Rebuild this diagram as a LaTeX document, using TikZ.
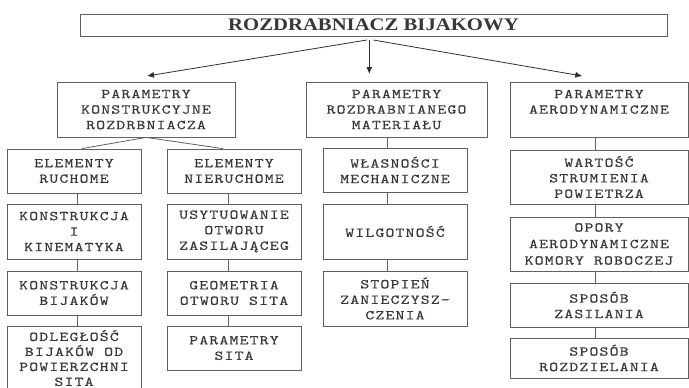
\documentclass[tikz,border=0pt]{standalone}
\usepackage{fontspec}
\usetikzlibrary{arrows.meta}
\newfontfamily\mono[Extension=.otf, FakeStretch=1.25, LetterSpace=9, FakeBold=0.4]{lmmono10-regular}
\newfontfamily\titlefont[FakeStretch=1.17]{Liberation Serif}
\definecolor{boxc}{HTML}{606060}
\definecolor{txtc}{HTML}{383838}
\definecolor{arrc}{HTML}{303030}
\tikzset{
  box/.style={draw=boxc, line width=0.8pt, inner sep=0pt, align=center, text=txtc,
    font={\mono\fontsize{13.5}{15.5}\selectfont}},
  conn/.style={draw=boxc, line width=0.8pt},
  arr/.style={draw=arrc, line width=0.8pt, -{Latex[length=7pt,width=6pt]}},
  colA/.style={box, minimum width=134pt},
  colB/.style={box, minimum width=134pt},
  colC/.style={box, minimum width=144pt},
  colD/.style={box, minimum width=178pt},
}
\begin{document}
\begin{tikzpicture}[x=1pt, y=-1pt]
\useasboundingbox (0,0) rectangle (689,388);
\clip (0,0) rectangle (689,388);
\fill[white] (0,0) rectangle (689,388);

% title
\node[draw=boxc, line width=0.8pt, minimum width=587pt, minimum height=22pt, inner sep=0pt,
  text=txtc, font={\titlefont\bfseries\fontsize{17.7}{20}\selectfont}] (title) at (373.5,25) {ROZDRABNIACZ BIJAKOWY};

% level 1
\node[box, minimum width=178pt, minimum height=55pt] (l1a) at (146,109.5) {PARAMETRY\\KONSTRUKCYJNE\\ROZDRBNIACZA};
\node[box, minimum width=181pt, minimum height=55pt] (l1b) at (396.5,109.5) {PARAMETRY\\ROZDRABNIANEGO\\MATERIAŁU};
\node[box, minimum width=178pt, minimum height=55pt] (l1c) at (599,109.5) {PARAMETRY\\AERODYNAMICZNE\\~};

% column A
\node[colA, minimum height=44pt] (er) at (74,171) {ELEMENTY\\RUCHOME};
\node[colA, minimum height=55pt] (kk) at (74,231.5) {KONSTRUKCJA\\I\\KINEMATYKA};
\node[colA, minimum height=44pt] (kb) at (74,293) {KONSTRUKCJA\\BIJAKÓW};
\node[colA, minimum height=76pt, font={\mono\fontsize{13.5}{15}\selectfont}] (od) at (74,364) {ODLEGŁOŚĆ\\BIJAKÓW OD\\POWIERZCHNI\\SITA\\[-3pt]\mbox{}};

% column B
\node[colB, minimum height=44pt] (en) at (234,171) {ELEMENTY\\NIERUCHOME};
\node[colB, minimum height=55pt] (us) at (234,231.5) {USYTUOWANIE\\OTWORU\\ZASILAJĄCEG};
\node[colB, minimum height=44pt] (ge) at (234,293) {GEOMETRIA\\OTWORU SITA};
\node[colB, minimum height=44pt] (ps) at (234,348) {PARAMETRY\\SITA};

% column C
\node[colC, minimum height=44pt] (wm) at (395,170) {WŁASNOŚCI\\MECHANICZNE};
\node[colC, minimum height=55pt] (wi) at (395,231.5) {WILGOTNOŚĆ};
\node[colC, minimum height=55pt] (st) at (395,298.5) {STOPIEŃ\\ZANIECZYSZ-\\CZENIA};

% column D
\node[colD, minimum height=54pt] (ws) at (599,177) {WARTOŚĆ\\STRUMIENIA\\POWIETRZA};
\node[colD, minimum height=54pt, font={\mono\fontsize{13.5}{16.5}\selectfont}] (op) at (599,244) {OPORY\\AERODYNAMICZNE\\KOMORY ROBOCZEJ};
\node[colD, minimum height=44pt] (sz) at (599,305) {SPOSÓB\\ZASILANIA};
\node[colD, minimum height=40pt] (sr) at (599,358) {SPOSÓB\\ROZDZIELANIA};

% arrow end points
\coordinate (s1) at (367,40);
\coordinate (s2) at (369.3,40);
\coordinate (s3) at (373.3,40);
\coordinate (e1) at (147,76);
\coordinate (e2) at (369.3,74);
\coordinate (e3) at (582.3,76);
\draw[arr] (s1) -- (e1);
\draw[arr] (s2) -- (e2);
\draw[arr] (s3) -- (e3);

% connector x positions
\coordinate (jl) at (82,0);
\coordinate (jr) at (223,0);
\coordinate (cA) at (77,0);
\coordinate (cB) at (228,0);
\coordinate (cC) at (387,0);
\coordinate (cD) at (595,0);

\draw[conn] (er.north -| jl) -- (l1a.south) -- (en.north -| jr);

\draw[conn] (er.south -| cA) -- (kk.north -| cA);
\draw[conn] (kk.south -| cA) -- (kb.north -| cA);
\draw[conn] (kb.south -| cA) -- (od.north -| cA);

\draw[conn] (en.south -| cB) -- (us.north -| cB);
\draw[conn] (us.south -| cB) -- (ge.north -| cB);
\draw[conn] (ge.south -| cB) -- (ps.north -| cB);

\draw[conn] (l1b.south -| cC) -- (wm.north -| cC);
\draw[conn] (wm.south -| cC) -- (wi.north -| cC);
\draw[conn] (wi.south -| cC) -- (st.north -| cC);

\draw[conn] (l1c.south -| cD) -- (ws.north -| cD);
\draw[conn] (ws.south -| cD) -- (op.north -| cD);
\draw[conn] (op.south -| cD) -- (sz.north -| cD);
\draw[conn] (sz.south -| cD) -- (sr.north -| cD);
\end{tikzpicture}
\end{document}
